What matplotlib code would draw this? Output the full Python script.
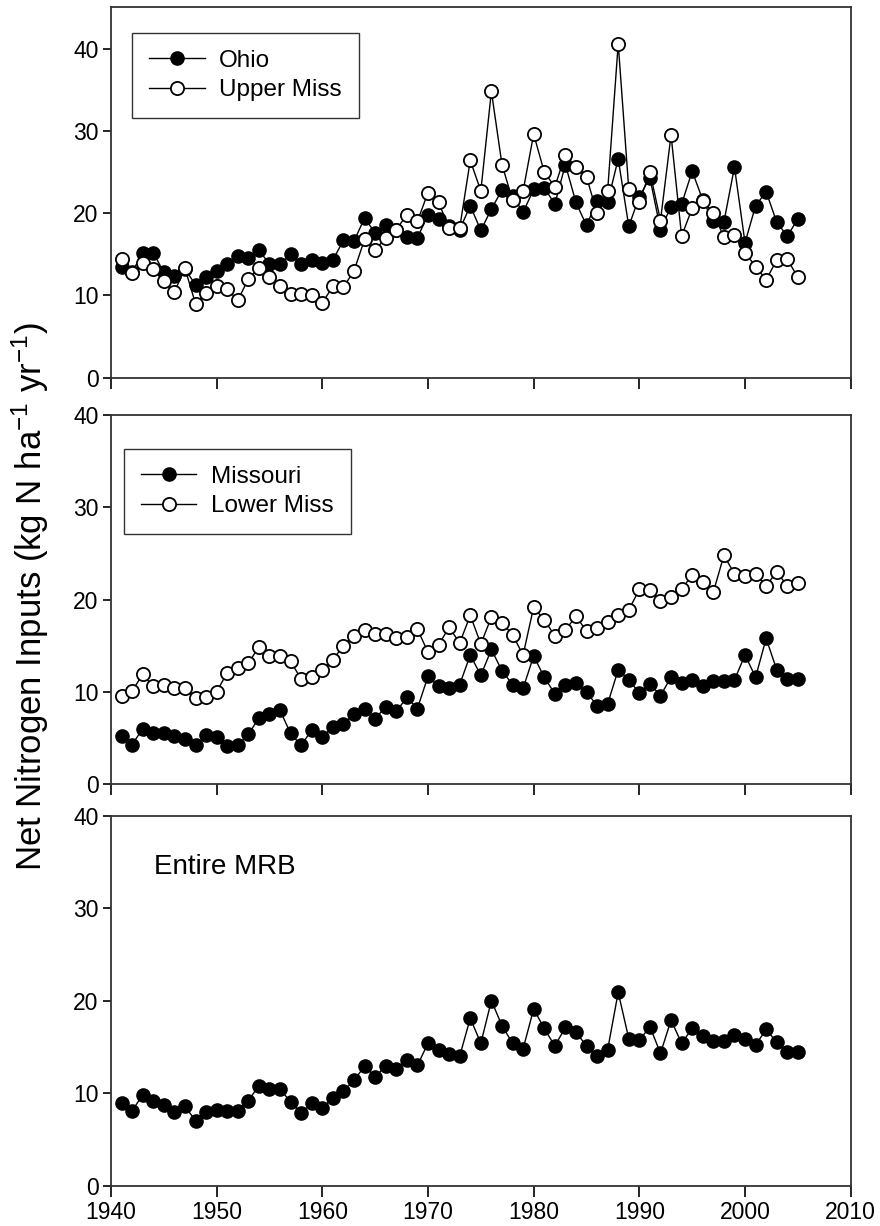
import numpy as np
import matplotlib
matplotlib.use('Agg')
from matplotlib import pyplot as plt

plt.rcParams['font.family'] = ['Liberation Sans', 'DejaVu Sans']
plt.rcParams['mathtext.default'] = 'regular'

years = np.arange(1941, 2006)

ohio = [13.5, 12.8, 15.2, 15.2, 12.8, 12.3, 13.2, 11.3, 12.2, 13.0,
        13.8, 14.8, 14.6, 15.5, 13.8, 13.8, 15.0, 13.8, 14.3, 14.0,
        14.3, 16.7, 16.6, 19.4, 17.6, 18.6, 18.0, 17.1, 17.0, 19.8,
        19.3, 18.4, 18.0, 20.9, 17.9, 20.5, 22.8, 22.1, 20.1, 22.9,
        23.1, 21.1, 25.9, 21.3, 18.5, 21.5, 21.3, 26.6, 18.4, 22.0,
        24.3, 18.0, 20.8, 21.1, 25.1, 21.6, 19.0, 18.9, 25.6, 16.4,
        20.9, 22.6, 18.9, 17.2, 19.3]
upper_miss = [14.4, 12.7, 14.0, 13.2, 11.8, 10.4, 13.3, 9.0, 10.3, 11.2,
              10.8, 9.4, 12.0, 13.3, 12.2, 11.2, 10.2, 10.2, 10.0, 9.1,
              11.1, 11.0, 13.0, 16.8, 15.5, 17.0, 18.0, 19.8, 19.0, 22.5,
              21.3, 18.2, 18.2, 26.4, 22.7, 34.8, 25.9, 21.6, 22.7, 29.6,
              25.0, 23.2, 27.1, 25.6, 24.4, 20.0, 22.7, 40.6, 22.9, 21.4,
              25.0, 19.1, 29.5, 17.2, 20.6, 21.5, 20.0, 17.1, 17.4, 15.2,
              13.5, 11.9, 14.3, 14.4, 12.2]
missouri = [5.2, 4.3, 6.0, 5.5, 5.6, 5.2, 4.9, 4.2, 5.3, 5.1,
            4.1, 4.2, 5.4, 7.2, 7.6, 8.0, 5.5, 4.2, 5.9, 5.1,
            6.2, 6.5, 7.6, 8.2, 7.1, 8.4, 7.9, 9.4, 8.2, 11.7,
            10.6, 10.4, 10.8, 14.0, 11.8, 14.6, 12.3, 10.8, 10.4, 13.9,
            11.6, 9.8, 10.8, 11.0, 10.0, 8.5, 8.7, 12.4, 11.3, 9.9,
            10.9, 9.6, 11.6, 11.0, 11.3, 10.6, 11.2, 11.2, 11.3, 14.0,
            11.6, 15.8, 12.4, 11.4, 11.4]
lower_miss = [9.6, 10.1, 11.9, 10.6, 10.7, 10.4, 10.4, 9.3, 9.5, 10.0,
              12.1, 12.6, 13.1, 14.9, 13.9, 13.9, 13.3, 11.4, 11.6, 12.4,
              13.5, 15.0, 16.1, 16.7, 16.3, 16.3, 15.8, 15.9, 16.8, 14.3,
              15.1, 17.0, 15.3, 18.3, 15.2, 18.1, 17.5, 16.2, 14.0, 19.2,
              17.8, 16.1, 16.7, 18.2, 16.6, 16.9, 17.6, 18.3, 18.9, 21.1,
              21.0, 19.8, 20.3, 21.1, 22.7, 21.9, 20.8, 24.8, 22.8, 22.6,
              22.8, 21.5, 23.0, 21.5, 21.8]
entire_mrb = [8.9, 8.1, 9.8, 9.1, 8.7, 8.0, 8.6, 7.0, 8.0, 8.2,
              8.1, 8.1, 9.2, 10.8, 10.5, 10.5, 9.0, 7.9, 8.9, 8.4,
              9.5, 10.2, 11.4, 12.9, 11.8, 12.9, 12.6, 13.6, 13.0, 15.4,
              14.7, 14.2, 14.0, 18.1, 15.4, 20.0, 17.3, 15.4, 14.8, 19.1,
              17.0, 15.1, 17.1, 16.6, 15.1, 14.0, 14.7, 20.9, 15.9, 15.7,
              17.2, 14.3, 17.9, 15.4, 17.0, 16.2, 15.6, 15.6, 16.3, 15.9,
              15.2, 16.9, 15.5, 14.5, 14.4]

x_ticks = [1940, 1950, 1960, 1970, 1980, 1990, 2000, 2010]

fig = plt.figure(figsize=(8.8, 12.26), dpi=100)
left, width = 0.1261, 0.8406
ax1 = fig.add_axes([left, 0.6919, width, 0.3021])
ax2 = fig.add_axes([left, 0.3603, width, 0.3012])
ax3 = fig.add_axes([left, 0.0329, width, 0.3018])

filled = dict(color='black', lw=1.0, marker='o', ms=9.5, mfc='black', mec='black', mew=1.0)
hollow = dict(color='black', lw=1.0, marker='o', ms=9.5, mfc='white', mec='black', mew=1.3)

ax1.plot(years, ohio, label='Ohio', **filled)
ax1.plot(years, upper_miss, label='Upper Miss', **hollow)
ax2.plot(years, missouri, label='Missouri', **filled)
ax2.plot(years, lower_miss, label='Lower Miss', **hollow)
ax3.plot(years, entire_mrb, **filled)

ax1.set_ylim(0, 45)
ax1.set_yticks([0, 10, 20, 30, 40])
for ax in (ax2, ax3):
    ax.set_ylim(0, 40)
    ax.set_yticks([0, 10, 20, 30, 40])

for ax in (ax1, ax2, ax3):
    ax.set_xlim(1940, 2010)
    ax.set_xticks(x_ticks)
    ax.tick_params(axis='both', direction='out', labelsize=16.5, colors='black',
                   width=1.2, pad=3)
    ax.tick_params(axis='x', length=8)
    ax.tick_params(axis='y', length=6)
    for s in ax.spines.values():
        s.set_linewidth(1.3)
        s.set_color('#333333')
ax1.tick_params(axis='x', labelbottom=False)
ax2.tick_params(axis='x', labelbottom=False)

leg_kw = dict(loc='upper left', fontsize=17.5, fancybox=False, framealpha=1,
              edgecolor='#333333', borderaxespad=0, handlelength=2.3,
              handletextpad=0.6, borderpad=0.7, labelspacing=0.3)
lg1 = ax1.legend(bbox_to_anchor=(0.028, 0.931), **leg_kw)
lg2 = ax2.legend(bbox_to_anchor=(0.017, 0.908), **leg_kw)
for lg in (lg1, lg2):
    lg.get_frame().set_linewidth(1.0)

ax3.text(0.0585, 0.86, 'Entire MRB', transform=ax3.transAxes, fontsize=20,
         ha='left', va='center')

fig.text(0.034, 0.513, 'Net Nitrogen Inputs (kg N ha$^{-1}$ yr$^{-1}$)',
         rotation=90, ha='center', va='center', fontsize=25)

fig.savefig('out.png', dpi=100)
